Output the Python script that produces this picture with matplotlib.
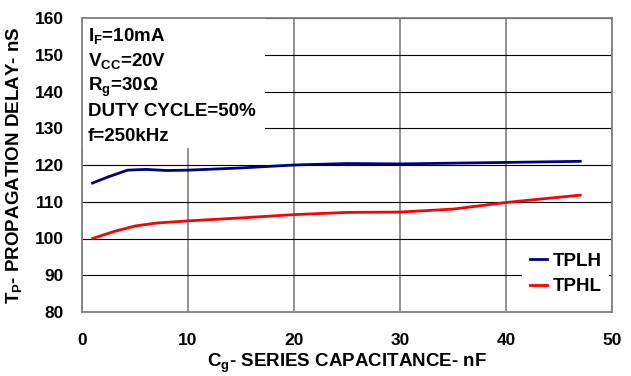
import matplotlib
matplotlib.use("Agg")
import matplotlib.pyplot as plt
from matplotlib.patches import Rectangle

cap_plh = [1, 2.5, 4.3, 6, 8, 10, 15, 20, 25, 30, 35, 40, 47]
tplh = [115.1, 116.8, 118.6, 118.8, 118.5, 118.6, 119.2, 120.0, 120.4, 120.3, 120.5, 120.7, 121.0]

cap_phl = [1, 3, 5, 7, 10, 15, 20, 25, 30, 35, 40, 47]
tphl = [100.0, 101.9, 103.4, 104.2, 104.8, 105.6, 106.5, 107.1, 107.2, 108.0, 109.8, 111.8]

x_ticks = [0, 10, 20, 30, 40, 50]
y_ticks = [80, 90, 100, 110, 120, 130, 140, 150, 160]

condiciones = [r"I$_{F}$=10mA", r"V$_{CC}$=20V", r"R$_{g}$=30Ω", "DUTY CYCLE=50%", "f=250kHz"]

plt.rcParams["font.family"] = ["Liberation Sans", "DejaVu Sans"]
plt.rcParams["font.weight"] = "bold"
plt.rcParams["mathtext.fontset"] = "custom"
plt.rcParams["mathtext.bf"] = "Liberation Sans:bold"
plt.rcParams["mathtext.rm"] = "Liberation Sans:bold"
plt.rcParams["mathtext.it"] = "Liberation Sans:bold"
plt.rcParams["mathtext.default"] = "bf"

fig = plt.figure(figsize=(6.31, 3.76), dpi=100)
ax = fig.add_axes([82 / 631, 64 / 376, 530 / 631, 294 / 376])

ax.plot(cap_plh, tplh, color="#000080", lw=2, label="TPLH", zorder=4)
ax.plot(cap_phl, tphl, color="#ff0000", lw=2, label="TPHL", zorder=4)

ax.set_xlim(0, 50)
ax.set_ylim(80, 160)
ax.set_xticks(x_ticks)
ax.set_yticks(y_ticks)
ax.tick_params(axis="both", labelsize=12.5, length=0)
ax.tick_params(axis="x", pad=15)
ax.tick_params(axis="y", pad=13)
for lab in ax.get_xticklabels() + ax.get_yticklabels():
    lab.set_fontweight("bold")

# rejilla: horizontales negras, verticales grises
ax.yaxis.grid(True, color="black", lw=0.8, zorder=1)
ax.xaxis.grid(True, color="#808080", lw=1.2, zorder=1)
ax.set_axisbelow(True)
for s in ax.spines.values():
    s.set_color("#808080")
    s.set_linewidth(1.3)

ax.set_xlabel(r"C$_{g}$- SERIES CAPACITANCE- nF", fontsize=13.5, fontweight="bold", labelpad=3)
ax.set_ylabel(r"T$_{P}$- PROPAGATION DELAY- nS", fontsize=13.5, fontweight="bold", labelpad=8)

# caja de condiciones
ax.add_patch(Rectangle((0, 0.558), 0.345, 0.442, transform=ax.transAxes,
                       facecolor="white", edgecolor="none", zorder=2))
y_txt = [0.922, 0.837, 0.752, 0.667, 0.582]
for t, yy in zip(condiciones, y_txt):
    ax.text(0.011, yy, t, transform=ax.transAxes, fontsize=13.5, fontweight="bold",
            va="baseline", ha="left", zorder=3)

leg = ax.legend(loc="lower right", bbox_to_anchor=(1.012, 0.0), fontsize=13.5,
                handlelength=0.9, handletextpad=0.3, labelspacing=0.45,
                borderpad=0.4, frameon=True, fancybox=False, framealpha=1,
                facecolor="white", edgecolor="none")
for t in leg.get_texts():
    t.set_fontweight("bold")

fig.savefig("out.png", dpi=100)
